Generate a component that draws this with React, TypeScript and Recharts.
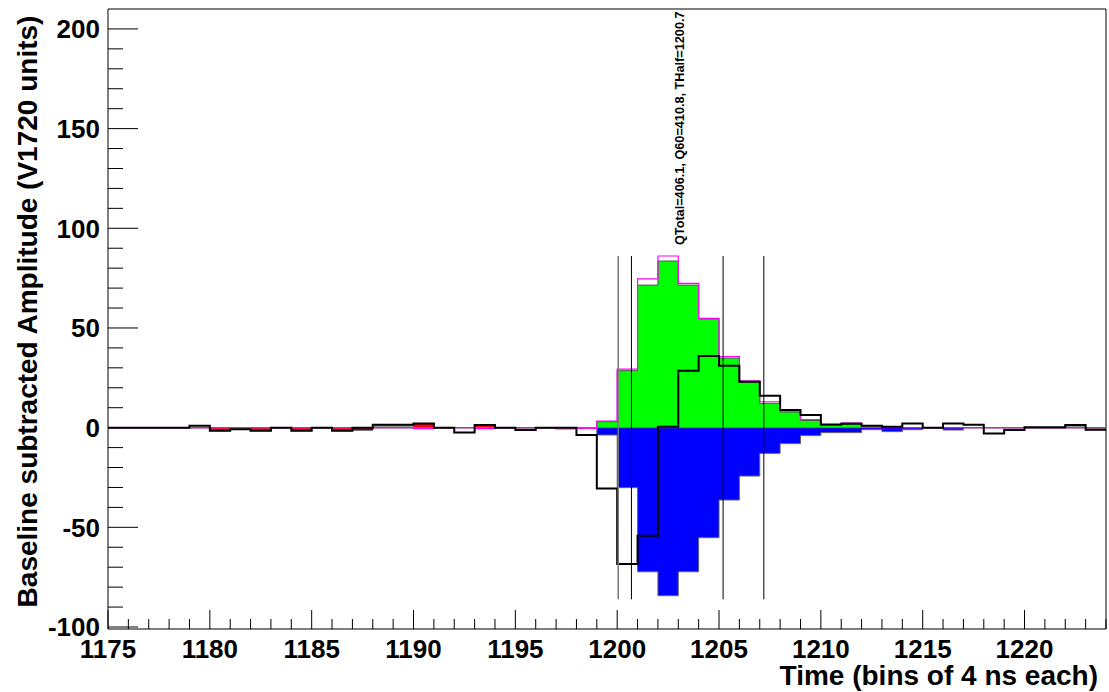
import React from 'react';
import { ComposedChart, Area, Line, XAxis, YAxis, ReferenceLine, ReferenceDot } from 'recharts';

// one value per bin, bins 1175 .. 1223 (bin low edges)
const firstBin = 1175;
const lastEdge = 1224;

const waveform = [
  0, 0, 0, 0, 1.0, -1.5, -0.8, -1.5, 0, -1.5,
  0, -1.5, 0, 1.5, 1.5, 2.1, 0, -2.4, 1.3, 0,
  -1.2, 0, 0, -3.7, -30.5, -68.4, -54.2, 0.5, 28.6, 35.9,
  31.1, 23.0, 16.0, 8.8, 6.3, 1.6, 2.0, 1.0, 0.4, 2.1,
  0, 2.1, 1.4, -2.9, -1.2, 0.2, 0.2, 1.3, -1.0,
];

const preWindow = [
  0, 0, 0, 0, 0, -1.5, 0, -1.5, 0, -1.5,
  0, -1.5, -1.2, 0, 0, 2.1, 0, 0, 1.3, 0,
  0, 0, 0, 0, 0, 0, 0, 0, 0, 0,
  0, 0, 0, 0, 0, 0, 0, 0, 0, 0,
  0, 0, 0, 0, 0, 0, 0, 0, 0,
];

const baselineNoise = [
  0, 0, 0, 0, 0, 0, -0.8, 0, 0, 0,
  0, 0, 0, 1.5, 1.5, 0, 0, 0, 0, 0,
  -1.2, 0, 0, 0, 0, 0, 0, 0, 0, 0,
  0, 0, 0, 0, 0, 0, 0, 1.0, 0.4, 0,
  0, 0, 0, 0, -1.2, -0.3, -0.3, 1.3, -1.2,
];

const rawPulse = [
  0, 0, 0, 0, 0, 0, 0, 0, 0, 0,
  0, 0, 0, 0, 0, -0.5, 0, 0, -0.5, 0,
  0, 0, -0.6, -0.4, 3.3, 29.4, 74.6, 86.1, 72.4, 54.8,
  35.6, 23.5, 13.0, 8.3, 4.1, 1.5, 2.3, 0, 0, 0,
  0, 0, 0, 0, 0, 0, 0, 0, 0,
];

const pulse = [
  0, 0, 0, 0, 0, 0, 0, 0, 0, 0,
  0, 0, 0, 0, 0, 0, 0, 0, 0, 0,
  0, 0, 0, 0, 3.0, 28.6, 71.5, 83.6, 71.5, 54.5,
  34.9, 23.0, 12.2, 7.8, 3.6, 1.3, 2.3, 0, 0, 0,
  0, 0, 0, 0, 0, 0, 0, 0, 0,
];

const inverted = [
  0, 0, 0, 0, 0, 0, 0, 0, 0, 0,
  0, 0, 0, 0, 0, 0, 0, 0, 0, 0,
  0, 0, 0, 0, -3.7, -30.1, -72.3, -84.3, -72.3, -55.2,
  -36.3, -24.3, -12.9, -8.0, -4.0, -2.5, -2.5, -1.0, -2.0, -1.0,
  0, -1.2, 0, 0, 0, 0, 0, 0, 0,
];

const markerTimes = [1200.05, 1200.7, 1205.2, 1207.2];
const markerHeight = 86.1;
const summary = 'QTotal=406.1, Q60=410.8, THalf=1200.7';

const xTicks: number[] = [];
for (let t = firstBin; t <= lastEdge; t++) xTicks.push(t);
const yTicks: number[] = [];
for (let v = -100; v <= 200; v += 10) yTicks.push(v);

const rows = waveform.map((_, i) => ({
  t: firstBin + i,
  waveform: waveform[i],
  preWindow: preWindow[i],
  baselineNoise: baselineNoise[i],
  rawPulse: rawPulse[i],
  pulse: pulse[i],
  inverted: inverted[i],
}));
// closing edge of the last bin
rows.push({ ...rows[rows.length - 1], t: lastEdge });

const font = '"Liberation Sans", Arial, Helvetica, sans-serif';

const XTick = (props: any) => {
  const { x, y, payload } = props;
  const v = payload.value;
  const major = v % 5 === 0;
  return (
    <g>
      <line x1={x} y1={y} x2={x} y2={y - (major ? 19 : 10)} stroke="#000" />
      {major && (
        <text x={x} y={y + 29} textAnchor="middle" fontSize={26} fontWeight="bold" fontFamily={font} fill="#000">
          {v}
        </text>
      )}
    </g>
  );
};

const YTick = (props: any) => {
  const { x, y, payload } = props;
  const v = payload.value;
  const major = v % 50 === 0;
  return (
    <g>
      <line x1={x} y1={y} x2={x + (major ? 30 : 15)} y2={y} stroke="#000" />
      {major && (
        <text x={x - 8} y={y + 9.3} textAnchor="end" fontSize={26} fontWeight="bold" fontFamily={font} fill="#000">
          {v}
        </text>
      )}
    </g>
  );
};

const SummaryText = (p: any) => (
  <text
    x={p.cx}
    y={p.cy}
    transform={`rotate(-90 ${p.cx} ${p.cy})`}
    fontSize={12.7}
    fontWeight="bold"
    fontFamily={font}
    fill="#000"
  >
    {summary}
  </text>
);

export default function App() {
  return (
    <div style={{ position: 'absolute', left: 0, top: 0, width: 1109, height: 692, background: '#fff' }}>
      <ComposedChart
        width={1109}
        height={692}
        data={rows}
        margin={{ top: 9, right: 3, bottom: 0, left: 0 }}
      >
        <XAxis
          dataKey="t"
          type="number"
          domain={[firstBin, lastEdge]}
          ticks={xTicks}
          interval={0}
          tick={<XTick />}
          tickLine={false}
          tickSize={0}
          tickMargin={0}
          height={63}
          axisLine={{ stroke: '#000' }}
          allowDataOverflow
        />
        <YAxis
          type="number"
          domain={[-101, 210]}
          ticks={yTicks}
          interval={0}
          tick={<YTick />}
          tickLine={false}
          tickSize={0}
          tickMargin={0}
          width={108}
          axisLine={{ stroke: '#000' }}
          allowDataOverflow
        />
        <ReferenceLine y={210} stroke="#000" />
        <ReferenceLine x={lastEdge} stroke="#000" />

        <Line dataKey="rawPulse" type="stepAfter" stroke="#ff00ff" strokeWidth={1.2} dot={false} isAnimationActive={false} />
        <Area dataKey="pulse" type="stepAfter" baseValue={0} fill="#00ff00" fillOpacity={1} stroke="#555" strokeWidth={1} isAnimationActive={false} />
        <Area dataKey="inverted" type="stepAfter" baseValue={0} fill="#0000ff" fillOpacity={1} stroke="#666" strokeWidth={1} isAnimationActive={false} />
        <Area dataKey="preWindow" type="stepAfter" baseValue={0} fill="#ff0000" fillOpacity={1} stroke="#000" strokeWidth={1} isAnimationActive={false} />
        <Area dataKey="baselineNoise" type="stepAfter" baseValue={0} fill="#999" fillOpacity={1} stroke="#888" strokeWidth={1} isAnimationActive={false} />
        <Line dataKey="waveform" type="stepAfter" stroke="#000" strokeWidth={2} dot={false} isAnimationActive={false} />

        {markerTimes.map((m, i) => (
          <ReferenceLine
            key={m}
            segment={[{ x: m, y: -markerHeight }, { x: m, y: markerHeight }]}
            stroke={i === 0 ? '#777' : '#000'}
            strokeWidth={i === 0 ? 1.5 : 1}
          />
        ))}
        <ReferenceDot x={1203.26} y={91.6} r={0} shape={SummaryText} />
      </ComposedChart>
      <svg width={1109} height={692} style={{ position: 'absolute', left: 0, top: 0, pointerEvents: 'none' }}>
        <text x={1098} y={685} textAnchor="end" fontSize={28} fontWeight="bold" fontFamily={font} fill="#000">
          Time (bins of 4 ns each)
        </text>
        <text
          x={37}
          y={311.5}
          transform="rotate(-90 37 311.5)"
          textAnchor="middle"
          fontSize={28}
          fontWeight="bold"
          fontFamily={font}
          fill="#000"
        >
          Baseline subtracted Amplitude (V1720 units)
        </text>
      </svg>
    </div>
  );
}
